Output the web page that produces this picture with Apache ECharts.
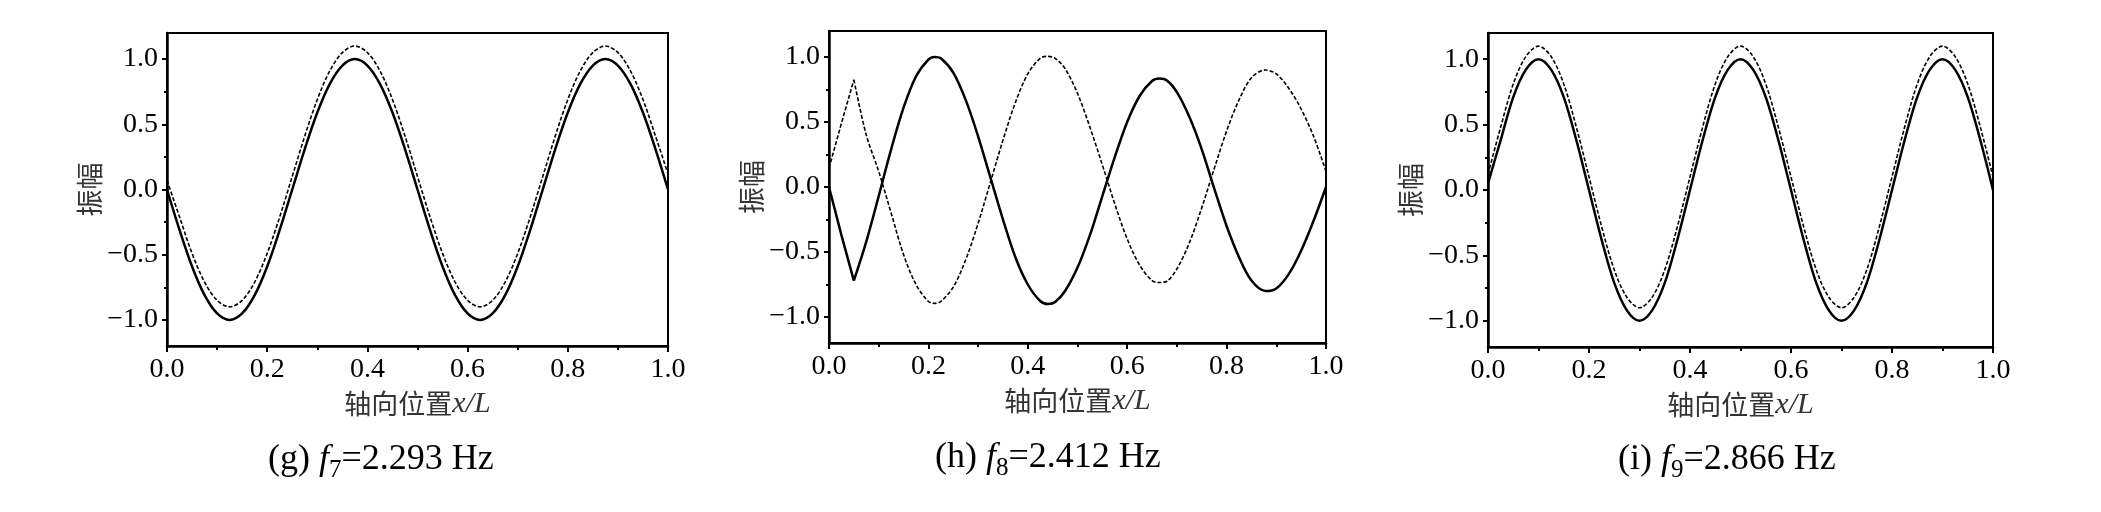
<!DOCTYPE html>
<html>
<head>
<meta charset="utf-8">
<script src="https://cdn.jsdelivr.net/npm/echarts@6/dist/echarts.min.js"></script>
<style>
html,body{margin:0;padding:0;background:#fff;}
#chart{width:2101px;height:512px;}
</style>
</head>
<body>
<div id="chart"></div>
<script>
// ---- data ----
const xPos = [0,0.025,0.05,0.075,0.1,0.125,0.15,0.175,0.2,0.225,0.25,0.275,0.3,0.325,0.35,0.375,0.4,0.425,0.45,0.475,0.5,0.525,0.55,0.575,0.6,0.625,0.65,0.675,0.7,0.725,0.75,0.775,0.8,0.825,0.85,0.875,0.9,0.925,0.95,0.975,1.0];

const gSolid  = [0,-0.31,-0.59,-0.81,-0.95,-1,-0.95,-0.81,-0.59,-0.31,0,0.31,0.59,0.81,0.95,1,0.95,0.81,0.59,0.31,0,-0.31,-0.59,-0.81,-0.95,-1,-0.95,-0.81,-0.59,-0.31,0,0.31,0.59,0.81,0.95,1,0.95,0.81,0.59,0.31,0];
const gDashed = [0.07,-0.21,-0.49,-0.71,-0.85,-0.9,-0.85,-0.71,-0.49,-0.21,0.1,0.41,0.69,0.91,1.05,1.1,1.05,0.91,0.69,0.41,0.1,-0.21,-0.49,-0.71,-0.85,-0.9,-0.85,-0.71,-0.49,-0.21,0.1,0.41,0.69,0.91,1.05,1.1,1.05,0.91,0.69,0.41,0.12];

const hX      = [0,0.025,0.05,0.075,0.1,0.125,0.15,0.175,0.2,0.213,0.225,0.25,0.275,0.3,0.325,0.35,0.375,0.4,0.425,0.441,0.455,0.475,0.5,0.525,0.55,0.575,0.6,0.625,0.65,0.665,0.68,0.7,0.725,0.75,0.775,0.8,0.825,0.85,0.878,0.9,0.925,0.95,0.975,1.0];
const hSolid  = [0,-0.37,-0.72,-0.42,-0.07,0.29,0.61,0.85,0.98,1.0,0.99,0.88,0.67,0.39,0.07,-0.25,-0.54,-0.75,-0.877,-0.90,-0.885,-0.80,-0.62,-0.37,-0.07,0.23,0.50,0.70,0.815,0.834,0.82,0.73,0.54,0.29,-0.01,-0.30,-0.54,-0.72,-0.80,-0.78,-0.67,-0.49,-0.26,0];
const hDashed = [0.145,0.49,0.825,0.40,0.12,-0.20,-0.52,-0.75,-0.88,-0.895,-0.88,-0.77,-0.56,-0.28,0.04,0.36,0.65,0.87,0.99,1.005,0.99,0.91,0.72,0.46,0.17,-0.13,-0.40,-0.60,-0.72,-0.735,-0.725,-0.63,-0.43,-0.16,0.14,0.43,0.67,0.84,0.90,0.87,0.76,0.60,0.39,0.12];
const hCornerIndex = 2; // sharp corner at x/L = 0.05

const iSolid  = [0.05,0.38,0.71,0.92,1,0.92,0.71,0.38,0,-0.38,-0.71,-0.92,-1,-0.92,-0.71,-0.38,0,0.38,0.71,0.92,1,0.92,0.71,0.38,0,-0.38,-0.71,-0.92,-1,-0.92,-0.71,-0.38,0,0.38,0.71,0.92,1,0.92,0.71,0.38,0];
const iDashed = [0.12,0.48,0.81,1.02,1.1,1.02,0.81,0.48,0.1,-0.28,-0.61,-0.82,-0.9,-0.82,-0.61,-0.28,0.1,0.48,0.81,1.02,1.1,1.02,0.81,0.48,0.1,-0.28,-0.61,-0.82,-0.9,-0.82,-0.61,-0.28,0.1,0.48,0.81,1.02,1.1,1.02,0.81,0.48,0.1];

const yMajorTicks = [-1,-0.5,0,0.5,1];
const yMinorTicks = [-0.75,-0.25,0.25,0.75];
const yName = '振幅';
const xNameCn = '轴向位置';
const xNameIt = 'x/L';
const captions = [
  {tag:'(g) ', sub:'7', val:'=2.293 Hz'},
  {tag:'(h) ', sub:'8', val:'=2.412 Hz'},
  {tag:'(i) ', sub:'9', val:'=2.866 Hz'}
];

// ---- layout ----
const W = 2101;
const grids = [
  {left:167, right:W-668, top:33, height:313},
  {left:829, right:W-1326, top:31, height:312},
  {left:1488, right:W-1993, top:33, height:314}
];
const capPos = [[268,460],[935,458],[1618,460]];

const SERIF = '"Times New Roman","Liberation Serif","DejaVu Serif",serif';
const CJK = '"Noto Sans CJK SC","Noto Sans CJK JP",sans-serif';
const fmt = v => v.toFixed(1).replace('-', '\u2212');
const SMOOTH = 0.33;

const xAxis = [], yAxis = [], series = [], graphic = [];
grids.forEach((g, gi) => {
  xAxis.push({
    gridIndex: gi, type:'value', min:0, max:1, interval:0.2,
    axisLine:{show:true, onZero:false, lineStyle:{color:'#000', width:2.5}},
    axisTick:{show:true, length:6, lineStyle:{color:'#000', width:2}},
    minorTick:{show:true, splitNumber:2, length:4, lineStyle:{color:'#000', width:2}},
    splitLine:{show:false}, minorSplitLine:{show:false},
    axisLabel:{formatter: fmt, margin:10, color:'#000', fontSize:28, fontFamily:SERIF, showMinLabel:true, showMaxLabel:true},
    name: '{c|' + xNameCn + '}{i|' + xNameIt + '}',
    nameLocation:'middle', nameGap:38,
    nameTextStyle:{color:'#333', rich:{
      c:{fontFamily:CJK, fontSize:27, color:'#333'},
      i:{fontFamily:SERIF, fontStyle:'italic', fontSize:30, color:'#333'}
    }}
  });
  yAxis.push({
    gridIndex: gi, type:'value', min:-1.2, max:1.2,
    axisLine:{show:true, onZero:false, lineStyle:{color:'#000', width:2.5}},
    axisTick:{show:true, length:5, customValues: yMajorTicks, lineStyle:{color:'#000', width:2}},
    axisLabel:{customValues: yMajorTicks, formatter: fmt, margin:9, color:'#000', fontSize:28, fontFamily:SERIF},
    splitLine:{show:false},
    name: yName, nameLocation:'middle', nameGap:58,
    nameTextStyle:{fontFamily:CJK, fontSize:27, color:'#333'}
  });
  yAxis.push({
    gridIndex: gi, type:'value', min:-1.2, max:1.2, position:'left',
    axisLine:{show:false},
    axisTick:{show:true, length:3, customValues: yMinorTicks, lineStyle:{color:'#000', width:2}},
    axisLabel:{show:false}, splitLine:{show:false}
  });
});

const pairs = (xs, ys) => xs.map((x, k) => [x, ys[k]]);
const solidStyle = {color:'#000', width:2.5, type:'solid'};
const dashStyle = {color:'#000', width:1.6, type:[4,2]};
function addLine(gi, data, style, smooth){
  series.push({type:'line', xAxisIndex:gi, yAxisIndex:gi*2, data:data, smooth:smooth,
    showSymbol:false, symbol:'none', lineStyle:style, silent:true, animation:false, clip:true});
}
addLine(0, pairs(xPos, gSolid), solidStyle, SMOOTH);
addLine(0, pairs(xPos, gDashed), dashStyle, SMOOTH);
const hS = pairs(hX, hSolid), hD = pairs(hX, hDashed);
addLine(1, hS.slice(0, hCornerIndex+1), solidStyle, false);
addLine(1, hS.slice(hCornerIndex), solidStyle, SMOOTH);
addLine(1, hD.slice(0, hCornerIndex+1), dashStyle, false);
addLine(1, hD.slice(hCornerIndex), dashStyle, SMOOTH);
addLine(2, pairs(xPos, iSolid), solidStyle, SMOOTH);
addLine(2, pairs(xPos, iDashed), dashStyle, SMOOTH);

captions.forEach((c, k) => {
  graphic.push({
    type:'text', x: capPos[k][0], y: capPos[k][1],
    style:{
      text: '{n|' + c.tag + '}{f|f}{s|' + c.sub + '}{n|' + c.val + '}',
      align:'left', verticalAlign:'middle',
      rich:{
        n:{fontFamily:SERIF, fontSize:36, lineHeight:46, fill:'#000', color:'#000'},
        f:{fontFamily:SERIF, fontStyle:'italic', fontSize:36, lineHeight:46, fill:'#000', color:'#000'},
        s:{fontFamily:SERIF, fontSize:25, lineHeight:24, verticalAlign:'bottom', fill:'#000', color:'#000'}
      }
    }
  });
});

const chart = echarts.init(document.getElementById('chart'), null, {renderer:'canvas'});
chart.setOption({
  backgroundColor:'#fff',
  animation:false,
  grid: grids.map(g => Object.assign({show:true, borderColor:'#000', borderWidth:2, backgroundColor:'transparent', containLabel:false}, g)),
  xAxis, yAxis, series, graphic
});
</script>
</body>
</html>
